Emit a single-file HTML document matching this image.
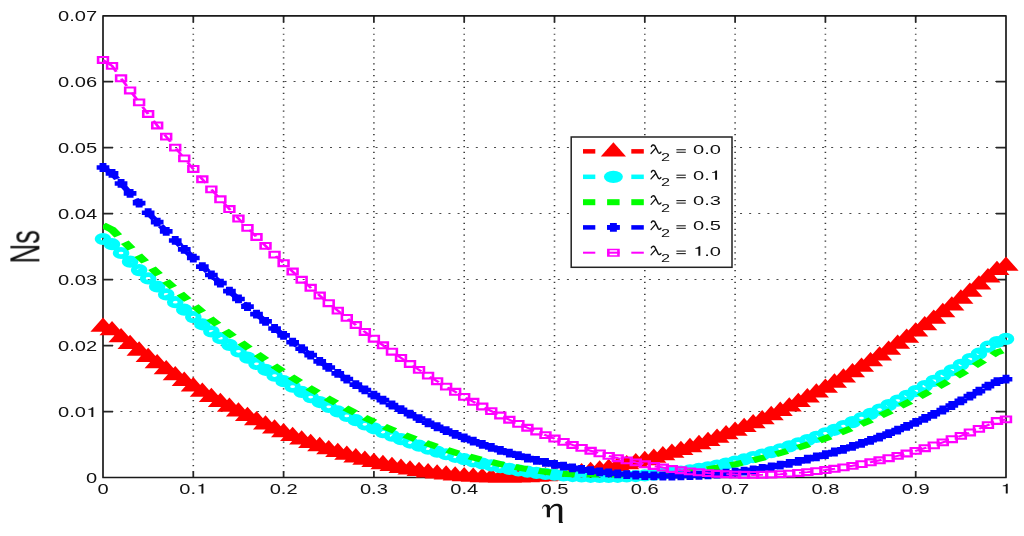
<!DOCTYPE html>
<html><head><meta charset="utf-8"><style>
html,body{margin:0;padding:0;background:#fff;width:1024px;height:536px;overflow:hidden}
svg{display:block}
text{font-family:"Liberation Sans",sans-serif;fill:#111}
</style></head><body>
<svg width="1024" height="536" viewBox="0 0 1024 536">
<defs><filter id="gs" x="0" y="0" width="1024" height="536" filterUnits="userSpaceOnUse"><feColorMatrix type="saturate" values="0"/></filter><clipPath id="axclip"><rect x="103.0" y="15.5" width="903.0" height="462.0"/></clipPath></defs>
<rect width="1024" height="536" fill="#fff"/>
<path d="M193.30,477.5 V15.5 M283.60,477.5 V15.5 M373.90,477.5 V15.5 M464.20,477.5 V15.5 M554.50,477.5 V15.5 M644.80,477.5 V15.5 M735.10,477.5 V15.5 M825.40,477.5 V15.5 M915.70,477.5 V15.5" stroke="#3a3a3a" stroke-width="1.6" stroke-dasharray="1.2,4.71" stroke-dashoffset="0.6" fill="none"/>
<path d="M103.0,411.50 H1006.0 M103.0,345.50 H1006.0 M103.0,279.50 H1006.0 M103.0,213.50 H1006.0 M103.0,147.50 H1006.0 M103.0,81.50 H1006.0" stroke="#4a4a4a" stroke-width="1.1" stroke-dasharray="2,7.112" stroke-dashoffset="0.8" fill="none"/>
<path d="M193.30,477.5 v-6 M193.30,15.9 v6 M283.60,477.5 v-6 M283.60,15.9 v6 M373.90,477.5 v-6 M373.90,15.9 v6 M464.20,477.5 v-6 M464.20,15.9 v6 M554.50,477.5 v-6 M554.50,15.9 v6 M644.80,477.5 v-6 M644.80,15.9 v6 M735.10,477.5 v-6 M735.10,15.9 v6 M825.40,477.5 v-6 M825.40,15.9 v6 M915.70,477.5 v-6 M915.70,15.9 v6 M103.0,411.50 h10 M1006.0,411.50 h-10 M103.0,345.50 h10 M1006.0,345.50 h-10 M103.0,279.50 h10 M1006.0,279.50 h-10 M103.0,213.50 h10 M1006.0,213.50 h-10 M103.0,147.50 h10 M1006.0,147.50 h-10 M103.0,81.50 h10 M1006.0,81.50 h-10" stroke="#262626" stroke-width="1.75" fill="none"/>
<rect x="103.0" y="15.9" width="903.0" height="461.6" fill="none" stroke="#1a1a1a" stroke-width="1.7" stroke-linejoin="round"/>
<g clip-path="url(#axclip)"><g transform="scale(1.55,1)"><path d="M66.45,326.60 L72.28,330.08 L78.10,337.03 L83.93,343.81 L89.75,350.39 L95.58,356.80 L101.41,363.03 L107.23,369.08 L113.06,374.95 L118.88,380.65 L124.71,386.17 L130.54,391.53 L136.36,396.71 L142.19,401.72 L148.01,406.56 L153.84,411.23 L159.66,415.74 L165.49,420.08 L171.32,424.25 L177.14,428.27 L182.97,432.11 L188.79,435.80 L194.62,439.32 L200.45,442.69 L206.27,445.89 L212.10,448.94 L217.92,451.83 L223.75,454.56 L229.57,457.13 L235.40,459.55 L241.23,461.81 L247.05,463.91 L252.88,465.86 L258.70,467.66 L264.53,469.31 L270.35,470.80 L276.18,472.14 L282.01,473.33 L287.83,474.36 L293.66,475.25 L299.48,475.99 L305.31,476.57 L311.14,477.01 L316.96,477.30 L322.79,477.44 L328.61,477.43 L334.44,477.28 L340.26,476.98 L346.09,476.53 L351.92,475.93 L357.74,475.19 L363.57,474.31 L369.39,473.28 L375.22,472.10 L381.05,470.79 L386.87,469.33 L392.70,467.72 L398.52,465.97 L404.35,464.09 L410.17,462.05 L416.00,459.88 L421.83,457.57 L427.65,455.12 L433.48,452.52 L439.30,449.79 L445.13,446.92 L450.95,443.91 L456.78,440.76 L462.61,437.47 L468.43,434.05 L474.26,430.49 L480.08,426.79 L485.91,422.95 L491.74,418.99 L497.56,414.88 L503.39,410.64 L509.21,406.27 L515.04,401.77 L520.86,397.13 L526.69,392.36 L532.52,387.45 L538.34,382.42 L544.17,377.25 L549.99,371.95 L555.82,366.53 L561.65,360.97 L567.47,355.28 L573.30,349.47 L579.12,343.53 L584.95,337.46 L590.77,331.26 L596.60,324.93 L602.43,318.48 L608.25,311.91 L614.08,305.20 L619.90,298.38 L625.73,291.43 L631.55,284.35 L637.38,277.15 L643.21,269.83 L649.03,265.50" stroke="#ff0000" stroke-width="4.5" stroke-dasharray="8,7.66" stroke-dashoffset="8.87" fill="none"/>
<path d="M66.45,326.60 L72.28,330.08 L78.10,337.03 L83.93,343.81 L89.75,350.39 L95.58,356.80 L101.41,363.03 L107.23,369.08 L113.06,374.95 L118.88,380.65 L124.71,386.17 L130.54,391.53 L136.36,396.71 L142.19,401.72 L148.01,406.56 L153.84,411.23 L159.66,415.74 L165.49,420.08 L171.32,424.25 L177.14,428.27 L182.97,432.11 L188.79,435.80 L194.62,439.32 L200.45,442.69 L206.27,445.89 L212.10,448.94 L217.92,451.83 L223.75,454.56 L229.57,457.13 L235.40,459.55 L241.23,461.81 L247.05,463.91 L252.88,465.86 L258.70,467.66 L264.53,469.31 L270.35,470.80 L276.18,472.14 L282.01,473.33 L287.83,474.36 L293.66,475.25 L299.48,475.99 L305.31,476.57 L311.14,477.01 L316.96,477.30 L322.79,477.44 L328.61,477.43 L334.44,477.28 L340.26,476.98 L346.09,476.53 L351.92,475.93 L357.74,475.19 L363.57,474.31 L369.39,473.28 L375.22,472.10 L381.05,470.79 L386.87,469.33 L392.70,467.72 L398.52,465.97 L404.35,464.09 L410.17,462.05 L416.00,459.88 L421.83,457.57 L427.65,455.12 L433.48,452.52 L439.30,449.79 L445.13,446.92 L450.95,443.91 L456.78,440.76 L462.61,437.47 L468.43,434.05 L474.26,430.49 L480.08,426.79 L485.91,422.95 L491.74,418.99 L497.56,414.88 L503.39,410.64 L509.21,406.27 L515.04,401.77 L520.86,397.13 L526.69,392.36 L532.52,387.45 L538.34,382.42 L544.17,377.25 L549.99,371.95 L555.82,366.53 L561.65,360.97 L567.47,355.28 L573.30,349.47 L579.12,343.53 L584.95,337.46 L590.77,331.26 L596.60,324.93 L602.43,318.48 L608.25,311.91 L614.08,305.20 L619.90,298.38 L625.73,291.43 L631.55,284.35 L637.38,277.15 L643.21,269.83 L649.03,265.50" stroke="#ff0000" stroke-width="4.5" stroke-dasharray="7.29,100000" fill="none"/>
</g></g>
<path d="M103.00,317.55 L115.60,331.85 L90.40,331.85 Z M112.03,321.03 L124.63,335.33 L99.43,335.33 Z M121.06,327.98 L133.66,342.28 L108.46,342.28 Z M130.09,334.76 L142.69,349.06 L117.49,349.06 Z M139.12,341.34 L151.72,355.64 L126.52,355.64 Z M148.15,347.75 L160.75,362.05 L135.55,362.05 Z M157.18,353.98 L169.78,368.28 L144.58,368.28 Z M166.21,360.03 L178.81,374.33 L153.61,374.33 Z M175.24,365.90 L187.84,380.20 L162.64,380.20 Z M184.27,371.60 L196.87,385.90 L171.67,385.90 Z M193.30,377.12 L205.90,391.42 L180.70,391.42 Z M202.33,382.48 L214.93,396.78 L189.73,396.78 Z M211.36,387.66 L223.96,401.96 L198.76,401.96 Z M220.39,392.67 L232.99,406.97 L207.79,406.97 Z M229.42,397.51 L242.02,411.81 L216.82,411.81 Z M238.45,402.18 L251.05,416.48 L225.85,416.48 Z M247.48,406.69 L260.08,420.99 L234.88,420.99 Z M256.51,411.03 L269.11,425.33 L243.91,425.33 Z M265.54,415.20 L278.14,429.50 L252.94,429.50 Z M274.57,419.22 L287.17,433.52 L261.97,433.52 Z M283.60,423.06 L296.20,437.36 L271.00,437.36 Z M292.63,426.75 L305.23,441.05 L280.03,441.05 Z M301.66,430.27 L314.26,444.57 L289.06,444.57 Z M310.69,433.64 L323.29,447.94 L298.09,447.94 Z M319.72,436.84 L332.32,451.14 L307.12,451.14 Z M328.75,439.89 L341.35,454.19 L316.15,454.19 Z M337.78,442.78 L350.38,457.08 L325.18,457.08 Z M346.81,445.51 L359.41,459.81 L334.21,459.81 Z M355.84,448.08 L368.44,462.38 L343.24,462.38 Z M364.87,450.50 L377.47,464.80 L352.27,464.80 Z M373.90,452.76 L386.50,467.06 L361.30,467.06 Z M382.93,454.86 L395.53,469.16 L370.33,469.16 Z M391.96,456.81 L404.56,471.11 L379.36,471.11 Z M400.99,458.61 L413.59,472.91 L388.39,472.91 Z M410.02,460.26 L422.62,474.56 L397.42,474.56 Z M419.05,461.75 L431.65,476.05 L406.45,476.05 Z M428.08,463.09 L440.68,477.39 L415.48,477.39 Z M437.11,464.28 L449.71,478.58 L424.51,478.58 Z M446.14,465.31 L458.74,479.61 L433.54,479.61 Z M455.17,466.20 L467.77,480.50 L442.57,480.50 Z M464.20,466.94 L476.80,481.24 L451.60,481.24 Z M473.23,467.52 L485.83,481.82 L460.63,481.82 Z M482.26,467.96 L494.86,482.26 L469.66,482.26 Z M491.29,468.25 L503.89,482.55 L478.69,482.55 Z M500.32,468.39 L512.92,482.69 L487.72,482.69 Z M509.35,468.38 L521.95,482.68 L496.75,482.68 Z M518.38,468.23 L530.98,482.53 L505.78,482.53 Z M527.41,467.93 L540.01,482.23 L514.81,482.23 Z M536.44,467.48 L549.04,481.78 L523.84,481.78 Z M545.47,466.88 L558.07,481.18 L532.87,481.18 Z M554.50,466.14 L567.10,480.44 L541.90,480.44 Z M563.53,465.26 L576.13,479.56 L550.93,479.56 Z M572.56,464.23 L585.16,478.53 L559.96,478.53 Z M581.59,463.05 L594.19,477.35 L568.99,477.35 Z M590.62,461.74 L603.22,476.04 L578.02,476.04 Z M599.65,460.28 L612.25,474.58 L587.05,474.58 Z M608.68,458.67 L621.28,472.97 L596.08,472.97 Z M617.71,456.92 L630.31,471.22 L605.11,471.22 Z M626.74,455.04 L639.34,469.34 L614.14,469.34 Z M635.77,453.00 L648.37,467.30 L623.17,467.30 Z M644.80,450.83 L657.40,465.13 L632.20,465.13 Z M653.83,448.52 L666.43,462.82 L641.23,462.82 Z M662.86,446.07 L675.46,460.37 L650.26,460.37 Z M671.89,443.47 L684.49,457.77 L659.29,457.77 Z M680.92,440.74 L693.52,455.04 L668.32,455.04 Z M689.95,437.87 L702.55,452.17 L677.35,452.17 Z M698.98,434.86 L711.58,449.16 L686.38,449.16 Z M708.01,431.71 L720.61,446.01 L695.41,446.01 Z M717.04,428.42 L729.64,442.72 L704.44,442.72 Z M726.07,425.00 L738.67,439.30 L713.47,439.30 Z M735.10,421.44 L747.70,435.74 L722.50,435.74 Z M744.13,417.74 L756.73,432.04 L731.53,432.04 Z M753.16,413.90 L765.76,428.20 L740.56,428.20 Z M762.19,409.94 L774.79,424.24 L749.59,424.24 Z M771.22,405.83 L783.82,420.13 L758.62,420.13 Z M780.25,401.59 L792.85,415.89 L767.65,415.89 Z M789.28,397.22 L801.88,411.52 L776.68,411.52 Z M798.31,392.72 L810.91,407.02 L785.71,407.02 Z M807.34,388.08 L819.94,402.38 L794.74,402.38 Z M816.37,383.31 L828.97,397.61 L803.77,397.61 Z M825.40,378.40 L838.00,392.70 L812.80,392.70 Z M834.43,373.37 L847.03,387.67 L821.83,387.67 Z M843.46,368.20 L856.06,382.50 L830.86,382.50 Z M852.49,362.90 L865.09,377.20 L839.89,377.20 Z M861.52,357.48 L874.12,371.78 L848.92,371.78 Z M870.55,351.92 L883.15,366.22 L857.95,366.22 Z M879.58,346.23 L892.18,360.53 L866.98,360.53 Z M888.61,340.42 L901.21,354.72 L876.01,354.72 Z M897.64,334.48 L910.24,348.78 L885.04,348.78 Z M906.67,328.41 L919.27,342.71 L894.07,342.71 Z M915.70,322.21 L928.30,336.51 L903.10,336.51 Z M924.73,315.88 L937.33,330.18 L912.13,330.18 Z M933.76,309.43 L946.36,323.73 L921.16,323.73 Z M942.79,302.86 L955.39,317.16 L930.19,317.16 Z M951.82,296.15 L964.42,310.45 L939.22,310.45 Z M960.85,289.33 L973.45,303.63 L948.25,303.63 Z M969.88,282.38 L982.48,296.68 L957.28,296.68 Z M978.91,275.30 L991.51,289.60 L966.31,289.60 Z M987.94,268.10 L1000.54,282.40 L975.34,282.40 Z M996.97,260.78 L1009.57,275.08 L984.37,275.08 Z M1006.00,256.45 L1018.60,270.75 L993.40,270.75 Z" fill="#ff0000"/>
<g clip-path="url(#axclip)"><g transform="scale(1.55,1)"><path d="M66.45,239.00 L72.28,244.20 L78.10,253.02 L83.93,261.66 L89.75,270.11 L95.58,278.39 L101.41,286.49 L107.23,294.41 L113.06,302.15 L118.88,309.71 L124.71,317.09 L130.54,324.29 L136.36,331.32 L142.19,338.17 L148.01,344.84 L153.84,351.34 L159.66,357.66 L165.49,363.81 L171.32,369.79 L177.14,375.59 L182.97,381.22 L188.79,386.68 L194.62,391.97 L200.45,397.10 L206.27,402.05 L212.10,406.84 L217.92,411.46 L223.75,415.91 L229.57,420.20 L235.40,424.33 L241.23,428.29 L247.05,432.09 L252.88,435.74 L258.70,439.22 L264.53,442.54 L270.35,445.71 L276.18,448.72 L282.01,451.57 L287.83,454.27 L293.66,456.81 L299.48,459.20 L305.31,461.43 L311.14,463.51 L316.96,465.44 L322.79,467.22 L328.61,468.85 L334.44,470.33 L340.26,471.65 L346.09,472.83 L351.92,473.86 L357.74,474.74 L363.57,475.48 L369.39,476.06 L375.22,476.50 L381.05,476.79 L386.87,476.94 L392.70,476.94 L398.52,476.79 L404.35,476.50 L410.17,476.06 L416.00,475.47 L421.83,474.74 L427.65,473.87 L433.48,472.84 L439.30,471.68 L445.13,470.37 L450.95,468.91 L456.78,467.31 L462.61,465.57 L468.43,463.68 L474.26,461.64 L480.08,459.46 L485.91,457.14 L491.74,454.67 L497.56,452.06 L503.39,449.31 L509.21,446.41 L515.04,443.37 L520.86,440.19 L526.69,436.86 L532.52,433.39 L538.34,429.78 L544.17,426.03 L549.99,422.14 L555.82,418.10 L561.65,413.93 L567.47,409.62 L573.30,405.18 L579.12,400.59 L584.95,395.87 L590.77,391.02 L596.60,386.04 L602.43,380.92 L608.25,375.67 L614.08,370.30 L619.90,364.80 L625.73,359.17 L631.55,353.70 L637.38,346.70 L643.21,342.00 L649.03,338.90" stroke="#00ffff" stroke-width="4.5" stroke-dasharray="8,7.66" stroke-dashoffset="8.87" fill="none"/>
<path d="M66.45,239.00 L72.28,244.20 L78.10,253.02 L83.93,261.66 L89.75,270.11 L95.58,278.39 L101.41,286.49 L107.23,294.41 L113.06,302.15 L118.88,309.71 L124.71,317.09 L130.54,324.29 L136.36,331.32 L142.19,338.17 L148.01,344.84 L153.84,351.34 L159.66,357.66 L165.49,363.81 L171.32,369.79 L177.14,375.59 L182.97,381.22 L188.79,386.68 L194.62,391.97 L200.45,397.10 L206.27,402.05 L212.10,406.84 L217.92,411.46 L223.75,415.91 L229.57,420.20 L235.40,424.33 L241.23,428.29 L247.05,432.09 L252.88,435.74 L258.70,439.22 L264.53,442.54 L270.35,445.71 L276.18,448.72 L282.01,451.57 L287.83,454.27 L293.66,456.81 L299.48,459.20 L305.31,461.43 L311.14,463.51 L316.96,465.44 L322.79,467.22 L328.61,468.85 L334.44,470.33 L340.26,471.65 L346.09,472.83 L351.92,473.86 L357.74,474.74 L363.57,475.48 L369.39,476.06 L375.22,476.50 L381.05,476.79 L386.87,476.94 L392.70,476.94 L398.52,476.79 L404.35,476.50 L410.17,476.06 L416.00,475.47 L421.83,474.74 L427.65,473.87 L433.48,472.84 L439.30,471.68 L445.13,470.37 L450.95,468.91 L456.78,467.31 L462.61,465.57 L468.43,463.68 L474.26,461.64 L480.08,459.46 L485.91,457.14 L491.74,454.67 L497.56,452.06 L503.39,449.31 L509.21,446.41 L515.04,443.37 L520.86,440.19 L526.69,436.86 L532.52,433.39 L538.34,429.78 L544.17,426.03 L549.99,422.14 L555.82,418.10 L561.65,413.93 L567.47,409.62 L573.30,405.18 L579.12,400.59 L584.95,395.87 L590.77,391.02 L596.60,386.04 L602.43,380.92 L608.25,375.67 L614.08,370.30 L619.90,364.80 L625.73,359.17 L631.55,353.70 L637.38,346.70 L643.21,342.00 L649.03,338.90" stroke="#00ffff" stroke-width="4.5" stroke-dasharray="7.29,100000" fill="none"/>
</g></g>
<g fill="#00ffff" fill-rule="evenodd"><path d="M94.70,239.00 a8.3,6.1 0 1,0 16.6,0 a8.3,6.1 0 1,0 -16.6,0 Z M100.60,239.00 a2.4,1.35 0 1,0 4.8,0 a2.4,1.35 0 1,0 -4.8,0 Z"/><path d="M103.73,244.20 a8.3,6.1 0 1,0 16.6,0 a8.3,6.1 0 1,0 -16.6,0 Z M109.63,244.20 a2.4,1.35 0 1,0 4.8,0 a2.4,1.35 0 1,0 -4.8,0 Z"/><path d="M112.76,253.02 a8.3,6.1 0 1,0 16.6,0 a8.3,6.1 0 1,0 -16.6,0 Z M118.66,253.02 a2.4,1.35 0 1,0 4.8,0 a2.4,1.35 0 1,0 -4.8,0 Z"/><path d="M121.79,261.66 a8.3,6.1 0 1,0 16.6,0 a8.3,6.1 0 1,0 -16.6,0 Z M127.69,261.66 a2.4,1.35 0 1,0 4.8,0 a2.4,1.35 0 1,0 -4.8,0 Z"/><path d="M130.82,270.11 a8.3,6.1 0 1,0 16.6,0 a8.3,6.1 0 1,0 -16.6,0 Z M136.72,270.11 a2.4,1.35 0 1,0 4.8,0 a2.4,1.35 0 1,0 -4.8,0 Z"/><path d="M139.85,278.39 a8.3,6.1 0 1,0 16.6,0 a8.3,6.1 0 1,0 -16.6,0 Z M145.75,278.39 a2.4,1.35 0 1,0 4.8,0 a2.4,1.35 0 1,0 -4.8,0 Z"/><path d="M148.88,286.49 a8.3,6.1 0 1,0 16.6,0 a8.3,6.1 0 1,0 -16.6,0 Z M154.78,286.49 a2.4,1.35 0 1,0 4.8,0 a2.4,1.35 0 1,0 -4.8,0 Z"/><path d="M157.91,294.41 a8.3,6.1 0 1,0 16.6,0 a8.3,6.1 0 1,0 -16.6,0 Z M163.81,294.41 a2.4,1.35 0 1,0 4.8,0 a2.4,1.35 0 1,0 -4.8,0 Z"/><path d="M166.94,302.15 a8.3,6.1 0 1,0 16.6,0 a8.3,6.1 0 1,0 -16.6,0 Z M172.84,302.15 a2.4,1.35 0 1,0 4.8,0 a2.4,1.35 0 1,0 -4.8,0 Z"/><path d="M175.97,309.71 a8.3,6.1 0 1,0 16.6,0 a8.3,6.1 0 1,0 -16.6,0 Z M181.87,309.71 a2.4,1.35 0 1,0 4.8,0 a2.4,1.35 0 1,0 -4.8,0 Z"/><path d="M185.00,317.09 a8.3,6.1 0 1,0 16.6,0 a8.3,6.1 0 1,0 -16.6,0 Z M190.90,317.09 a2.4,1.35 0 1,0 4.8,0 a2.4,1.35 0 1,0 -4.8,0 Z"/><path d="M194.03,324.29 a8.3,6.1 0 1,0 16.6,0 a8.3,6.1 0 1,0 -16.6,0 Z M199.93,324.29 a2.4,1.35 0 1,0 4.8,0 a2.4,1.35 0 1,0 -4.8,0 Z"/><path d="M203.06,331.32 a8.3,6.1 0 1,0 16.6,0 a8.3,6.1 0 1,0 -16.6,0 Z M208.96,331.32 a2.4,1.35 0 1,0 4.8,0 a2.4,1.35 0 1,0 -4.8,0 Z"/><path d="M212.09,338.17 a8.3,6.1 0 1,0 16.6,0 a8.3,6.1 0 1,0 -16.6,0 Z M217.99,338.17 a2.4,1.35 0 1,0 4.8,0 a2.4,1.35 0 1,0 -4.8,0 Z"/><path d="M221.12,344.84 a8.3,6.1 0 1,0 16.6,0 a8.3,6.1 0 1,0 -16.6,0 Z M227.02,344.84 a2.4,1.35 0 1,0 4.8,0 a2.4,1.35 0 1,0 -4.8,0 Z"/><path d="M230.15,351.34 a8.3,6.1 0 1,0 16.6,0 a8.3,6.1 0 1,0 -16.6,0 Z M236.05,351.34 a2.4,1.35 0 1,0 4.8,0 a2.4,1.35 0 1,0 -4.8,0 Z"/><path d="M239.18,357.66 a8.3,6.1 0 1,0 16.6,0 a8.3,6.1 0 1,0 -16.6,0 Z M245.08,357.66 a2.4,1.35 0 1,0 4.8,0 a2.4,1.35 0 1,0 -4.8,0 Z"/><path d="M248.21,363.81 a8.3,6.1 0 1,0 16.6,0 a8.3,6.1 0 1,0 -16.6,0 Z M254.11,363.81 a2.4,1.35 0 1,0 4.8,0 a2.4,1.35 0 1,0 -4.8,0 Z"/><path d="M257.24,369.79 a8.3,6.1 0 1,0 16.6,0 a8.3,6.1 0 1,0 -16.6,0 Z M263.14,369.79 a2.4,1.35 0 1,0 4.8,0 a2.4,1.35 0 1,0 -4.8,0 Z"/><path d="M266.27,375.59 a8.3,6.1 0 1,0 16.6,0 a8.3,6.1 0 1,0 -16.6,0 Z M272.17,375.59 a2.4,1.35 0 1,0 4.8,0 a2.4,1.35 0 1,0 -4.8,0 Z"/><path d="M275.30,381.22 a8.3,6.1 0 1,0 16.6,0 a8.3,6.1 0 1,0 -16.6,0 Z M281.20,381.22 a2.4,1.35 0 1,0 4.8,0 a2.4,1.35 0 1,0 -4.8,0 Z"/><path d="M284.33,386.68 a8.3,6.1 0 1,0 16.6,0 a8.3,6.1 0 1,0 -16.6,0 Z M290.23,386.68 a2.4,1.35 0 1,0 4.8,0 a2.4,1.35 0 1,0 -4.8,0 Z"/><path d="M293.36,391.97 a8.3,6.1 0 1,0 16.6,0 a8.3,6.1 0 1,0 -16.6,0 Z M299.26,391.97 a2.4,1.35 0 1,0 4.8,0 a2.4,1.35 0 1,0 -4.8,0 Z"/><path d="M302.39,397.10 a8.3,6.1 0 1,0 16.6,0 a8.3,6.1 0 1,0 -16.6,0 Z M308.29,397.10 a2.4,1.35 0 1,0 4.8,0 a2.4,1.35 0 1,0 -4.8,0 Z"/><path d="M311.42,402.05 a8.3,6.1 0 1,0 16.6,0 a8.3,6.1 0 1,0 -16.6,0 Z M317.32,402.05 a2.4,1.35 0 1,0 4.8,0 a2.4,1.35 0 1,0 -4.8,0 Z"/><path d="M320.45,406.84 a8.3,6.1 0 1,0 16.6,0 a8.3,6.1 0 1,0 -16.6,0 Z M326.35,406.84 a2.4,1.35 0 1,0 4.8,0 a2.4,1.35 0 1,0 -4.8,0 Z"/><path d="M329.48,411.46 a8.3,6.1 0 1,0 16.6,0 a8.3,6.1 0 1,0 -16.6,0 Z M335.38,411.46 a2.4,1.35 0 1,0 4.8,0 a2.4,1.35 0 1,0 -4.8,0 Z"/><path d="M338.51,415.91 a8.3,6.1 0 1,0 16.6,0 a8.3,6.1 0 1,0 -16.6,0 Z M344.41,415.91 a2.4,1.35 0 1,0 4.8,0 a2.4,1.35 0 1,0 -4.8,0 Z"/><path d="M347.54,420.20 a8.3,6.1 0 1,0 16.6,0 a8.3,6.1 0 1,0 -16.6,0 Z M353.44,420.20 a2.4,1.35 0 1,0 4.8,0 a2.4,1.35 0 1,0 -4.8,0 Z"/><path d="M356.57,424.33 a8.3,6.1 0 1,0 16.6,0 a8.3,6.1 0 1,0 -16.6,0 Z M362.47,424.33 a2.4,1.35 0 1,0 4.8,0 a2.4,1.35 0 1,0 -4.8,0 Z"/><path d="M365.60,428.29 a8.3,6.1 0 1,0 16.6,0 a8.3,6.1 0 1,0 -16.6,0 Z M371.50,428.29 a2.4,1.35 0 1,0 4.8,0 a2.4,1.35 0 1,0 -4.8,0 Z"/><path d="M374.63,432.09 a8.3,6.1 0 1,0 16.6,0 a8.3,6.1 0 1,0 -16.6,0 Z M380.53,432.09 a2.4,1.35 0 1,0 4.8,0 a2.4,1.35 0 1,0 -4.8,0 Z"/><path d="M383.66,435.74 a8.3,6.1 0 1,0 16.6,0 a8.3,6.1 0 1,0 -16.6,0 Z M389.56,435.74 a2.4,1.35 0 1,0 4.8,0 a2.4,1.35 0 1,0 -4.8,0 Z"/><path d="M392.69,439.22 a8.3,6.1 0 1,0 16.6,0 a8.3,6.1 0 1,0 -16.6,0 Z M398.59,439.22 a2.4,1.35 0 1,0 4.8,0 a2.4,1.35 0 1,0 -4.8,0 Z"/><path d="M401.72,442.54 a8.3,6.1 0 1,0 16.6,0 a8.3,6.1 0 1,0 -16.6,0 Z M407.62,442.54 a2.4,1.35 0 1,0 4.8,0 a2.4,1.35 0 1,0 -4.8,0 Z"/><path d="M410.75,445.71 a8.3,6.1 0 1,0 16.6,0 a8.3,6.1 0 1,0 -16.6,0 Z M416.65,445.71 a2.4,1.35 0 1,0 4.8,0 a2.4,1.35 0 1,0 -4.8,0 Z"/><path d="M419.78,448.72 a8.3,6.1 0 1,0 16.6,0 a8.3,6.1 0 1,0 -16.6,0 Z M425.68,448.72 a2.4,1.35 0 1,0 4.8,0 a2.4,1.35 0 1,0 -4.8,0 Z"/><path d="M428.81,451.57 a8.3,6.1 0 1,0 16.6,0 a8.3,6.1 0 1,0 -16.6,0 Z M434.71,451.57 a2.4,1.35 0 1,0 4.8,0 a2.4,1.35 0 1,0 -4.8,0 Z"/><path d="M437.84,454.27 a8.3,6.1 0 1,0 16.6,0 a8.3,6.1 0 1,0 -16.6,0 Z M443.74,454.27 a2.4,1.35 0 1,0 4.8,0 a2.4,1.35 0 1,0 -4.8,0 Z"/><path d="M446.87,456.81 a8.3,6.1 0 1,0 16.6,0 a8.3,6.1 0 1,0 -16.6,0 Z M452.77,456.81 a2.4,1.35 0 1,0 4.8,0 a2.4,1.35 0 1,0 -4.8,0 Z"/><path d="M455.90,459.20 a8.3,6.1 0 1,0 16.6,0 a8.3,6.1 0 1,0 -16.6,0 Z M461.80,459.20 a2.4,1.35 0 1,0 4.8,0 a2.4,1.35 0 1,0 -4.8,0 Z"/><path d="M464.93,461.43 a8.3,6.1 0 1,0 16.6,0 a8.3,6.1 0 1,0 -16.6,0 Z M470.83,461.43 a2.4,1.35 0 1,0 4.8,0 a2.4,1.35 0 1,0 -4.8,0 Z"/><path d="M473.96,463.51 a8.3,6.1 0 1,0 16.6,0 a8.3,6.1 0 1,0 -16.6,0 Z M479.86,463.51 a2.4,1.35 0 1,0 4.8,0 a2.4,1.35 0 1,0 -4.8,0 Z"/><path d="M482.99,465.44 a8.3,6.1 0 1,0 16.6,0 a8.3,6.1 0 1,0 -16.6,0 Z M488.89,465.44 a2.4,1.35 0 1,0 4.8,0 a2.4,1.35 0 1,0 -4.8,0 Z"/><path d="M492.02,467.22 a8.3,6.1 0 1,0 16.6,0 a8.3,6.1 0 1,0 -16.6,0 Z M497.92,467.22 a2.4,1.35 0 1,0 4.8,0 a2.4,1.35 0 1,0 -4.8,0 Z"/><path d="M501.05,468.85 a8.3,6.1 0 1,0 16.6,0 a8.3,6.1 0 1,0 -16.6,0 Z M506.95,468.85 a2.4,1.35 0 1,0 4.8,0 a2.4,1.35 0 1,0 -4.8,0 Z"/><path d="M510.08,470.33 a8.3,6.1 0 1,0 16.6,0 a8.3,6.1 0 1,0 -16.6,0 Z M515.98,470.33 a2.4,1.35 0 1,0 4.8,0 a2.4,1.35 0 1,0 -4.8,0 Z"/><path d="M519.11,471.65 a8.3,6.1 0 1,0 16.6,0 a8.3,6.1 0 1,0 -16.6,0 Z M525.01,471.65 a2.4,1.35 0 1,0 4.8,0 a2.4,1.35 0 1,0 -4.8,0 Z"/><path d="M528.14,472.83 a8.3,6.1 0 1,0 16.6,0 a8.3,6.1 0 1,0 -16.6,0 Z M534.04,472.83 a2.4,1.35 0 1,0 4.8,0 a2.4,1.35 0 1,0 -4.8,0 Z"/><path d="M537.17,473.86 a8.3,6.1 0 1,0 16.6,0 a8.3,6.1 0 1,0 -16.6,0 Z M543.07,473.86 a2.4,1.35 0 1,0 4.8,0 a2.4,1.35 0 1,0 -4.8,0 Z"/><path d="M546.20,474.74 a8.3,6.1 0 1,0 16.6,0 a8.3,6.1 0 1,0 -16.6,0 Z M552.10,474.74 a2.4,1.35 0 1,0 4.8,0 a2.4,1.35 0 1,0 -4.8,0 Z"/><path d="M555.23,475.48 a8.3,6.1 0 1,0 16.6,0 a8.3,6.1 0 1,0 -16.6,0 Z M561.13,475.48 a2.4,1.35 0 1,0 4.8,0 a2.4,1.35 0 1,0 -4.8,0 Z"/><path d="M564.26,476.06 a8.3,6.1 0 1,0 16.6,0 a8.3,6.1 0 1,0 -16.6,0 Z M570.16,476.06 a2.4,1.35 0 1,0 4.8,0 a2.4,1.35 0 1,0 -4.8,0 Z"/><path d="M573.29,476.50 a8.3,6.1 0 1,0 16.6,0 a8.3,6.1 0 1,0 -16.6,0 Z M579.19,476.50 a2.4,1.35 0 1,0 4.8,0 a2.4,1.35 0 1,0 -4.8,0 Z"/><path d="M582.32,476.79 a8.3,6.1 0 1,0 16.6,0 a8.3,6.1 0 1,0 -16.6,0 Z M588.22,476.79 a2.4,1.35 0 1,0 4.8,0 a2.4,1.35 0 1,0 -4.8,0 Z"/><path d="M591.35,476.94 a8.3,6.1 0 1,0 16.6,0 a8.3,6.1 0 1,0 -16.6,0 Z M597.25,476.94 a2.4,1.35 0 1,0 4.8,0 a2.4,1.35 0 1,0 -4.8,0 Z"/><path d="M600.38,476.94 a8.3,6.1 0 1,0 16.6,0 a8.3,6.1 0 1,0 -16.6,0 Z M606.28,476.94 a2.4,1.35 0 1,0 4.8,0 a2.4,1.35 0 1,0 -4.8,0 Z"/><path d="M609.41,476.79 a8.3,6.1 0 1,0 16.6,0 a8.3,6.1 0 1,0 -16.6,0 Z M615.31,476.79 a2.4,1.35 0 1,0 4.8,0 a2.4,1.35 0 1,0 -4.8,0 Z"/><path d="M618.44,476.50 a8.3,6.1 0 1,0 16.6,0 a8.3,6.1 0 1,0 -16.6,0 Z M624.34,476.50 a2.4,1.35 0 1,0 4.8,0 a2.4,1.35 0 1,0 -4.8,0 Z"/><path d="M627.47,476.06 a8.3,6.1 0 1,0 16.6,0 a8.3,6.1 0 1,0 -16.6,0 Z M633.37,476.06 a2.4,1.35 0 1,0 4.8,0 a2.4,1.35 0 1,0 -4.8,0 Z"/><path d="M636.50,475.47 a8.3,6.1 0 1,0 16.6,0 a8.3,6.1 0 1,0 -16.6,0 Z M642.40,475.47 a2.4,1.35 0 1,0 4.8,0 a2.4,1.35 0 1,0 -4.8,0 Z"/><path d="M645.53,474.74 a8.3,6.1 0 1,0 16.6,0 a8.3,6.1 0 1,0 -16.6,0 Z M651.43,474.74 a2.4,1.35 0 1,0 4.8,0 a2.4,1.35 0 1,0 -4.8,0 Z"/><path d="M654.56,473.87 a8.3,6.1 0 1,0 16.6,0 a8.3,6.1 0 1,0 -16.6,0 Z M660.46,473.87 a2.4,1.35 0 1,0 4.8,0 a2.4,1.35 0 1,0 -4.8,0 Z"/><path d="M663.59,472.84 a8.3,6.1 0 1,0 16.6,0 a8.3,6.1 0 1,0 -16.6,0 Z M669.49,472.84 a2.4,1.35 0 1,0 4.8,0 a2.4,1.35 0 1,0 -4.8,0 Z"/><path d="M672.62,471.68 a8.3,6.1 0 1,0 16.6,0 a8.3,6.1 0 1,0 -16.6,0 Z M678.52,471.68 a2.4,1.35 0 1,0 4.8,0 a2.4,1.35 0 1,0 -4.8,0 Z"/><path d="M681.65,470.37 a8.3,6.1 0 1,0 16.6,0 a8.3,6.1 0 1,0 -16.6,0 Z M687.55,470.37 a2.4,1.35 0 1,0 4.8,0 a2.4,1.35 0 1,0 -4.8,0 Z"/><path d="M690.68,468.91 a8.3,6.1 0 1,0 16.6,0 a8.3,6.1 0 1,0 -16.6,0 Z M696.58,468.91 a2.4,1.35 0 1,0 4.8,0 a2.4,1.35 0 1,0 -4.8,0 Z"/><path d="M699.71,467.31 a8.3,6.1 0 1,0 16.6,0 a8.3,6.1 0 1,0 -16.6,0 Z M705.61,467.31 a2.4,1.35 0 1,0 4.8,0 a2.4,1.35 0 1,0 -4.8,0 Z"/><path d="M708.74,465.57 a8.3,6.1 0 1,0 16.6,0 a8.3,6.1 0 1,0 -16.6,0 Z M714.64,465.57 a2.4,1.35 0 1,0 4.8,0 a2.4,1.35 0 1,0 -4.8,0 Z"/><path d="M717.77,463.68 a8.3,6.1 0 1,0 16.6,0 a8.3,6.1 0 1,0 -16.6,0 Z M723.67,463.68 a2.4,1.35 0 1,0 4.8,0 a2.4,1.35 0 1,0 -4.8,0 Z"/><path d="M726.80,461.64 a8.3,6.1 0 1,0 16.6,0 a8.3,6.1 0 1,0 -16.6,0 Z M732.70,461.64 a2.4,1.35 0 1,0 4.8,0 a2.4,1.35 0 1,0 -4.8,0 Z"/><path d="M735.83,459.46 a8.3,6.1 0 1,0 16.6,0 a8.3,6.1 0 1,0 -16.6,0 Z M741.73,459.46 a2.4,1.35 0 1,0 4.8,0 a2.4,1.35 0 1,0 -4.8,0 Z"/><path d="M744.86,457.14 a8.3,6.1 0 1,0 16.6,0 a8.3,6.1 0 1,0 -16.6,0 Z M750.76,457.14 a2.4,1.35 0 1,0 4.8,0 a2.4,1.35 0 1,0 -4.8,0 Z"/><path d="M753.89,454.67 a8.3,6.1 0 1,0 16.6,0 a8.3,6.1 0 1,0 -16.6,0 Z M759.79,454.67 a2.4,1.35 0 1,0 4.8,0 a2.4,1.35 0 1,0 -4.8,0 Z"/><path d="M762.92,452.06 a8.3,6.1 0 1,0 16.6,0 a8.3,6.1 0 1,0 -16.6,0 Z M768.82,452.06 a2.4,1.35 0 1,0 4.8,0 a2.4,1.35 0 1,0 -4.8,0 Z"/><path d="M771.95,449.31 a8.3,6.1 0 1,0 16.6,0 a8.3,6.1 0 1,0 -16.6,0 Z M777.85,449.31 a2.4,1.35 0 1,0 4.8,0 a2.4,1.35 0 1,0 -4.8,0 Z"/><path d="M780.98,446.41 a8.3,6.1 0 1,0 16.6,0 a8.3,6.1 0 1,0 -16.6,0 Z M786.88,446.41 a2.4,1.35 0 1,0 4.8,0 a2.4,1.35 0 1,0 -4.8,0 Z"/><path d="M790.01,443.37 a8.3,6.1 0 1,0 16.6,0 a8.3,6.1 0 1,0 -16.6,0 Z M795.91,443.37 a2.4,1.35 0 1,0 4.8,0 a2.4,1.35 0 1,0 -4.8,0 Z"/><path d="M799.04,440.19 a8.3,6.1 0 1,0 16.6,0 a8.3,6.1 0 1,0 -16.6,0 Z M804.94,440.19 a2.4,1.35 0 1,0 4.8,0 a2.4,1.35 0 1,0 -4.8,0 Z"/><path d="M808.07,436.86 a8.3,6.1 0 1,0 16.6,0 a8.3,6.1 0 1,0 -16.6,0 Z M813.97,436.86 a2.4,1.35 0 1,0 4.8,0 a2.4,1.35 0 1,0 -4.8,0 Z"/><path d="M817.10,433.39 a8.3,6.1 0 1,0 16.6,0 a8.3,6.1 0 1,0 -16.6,0 Z M823.00,433.39 a2.4,1.35 0 1,0 4.8,0 a2.4,1.35 0 1,0 -4.8,0 Z"/><path d="M826.13,429.78 a8.3,6.1 0 1,0 16.6,0 a8.3,6.1 0 1,0 -16.6,0 Z M832.03,429.78 a2.4,1.35 0 1,0 4.8,0 a2.4,1.35 0 1,0 -4.8,0 Z"/><path d="M835.16,426.03 a8.3,6.1 0 1,0 16.6,0 a8.3,6.1 0 1,0 -16.6,0 Z M841.06,426.03 a2.4,1.35 0 1,0 4.8,0 a2.4,1.35 0 1,0 -4.8,0 Z"/><path d="M844.19,422.14 a8.3,6.1 0 1,0 16.6,0 a8.3,6.1 0 1,0 -16.6,0 Z M850.09,422.14 a2.4,1.35 0 1,0 4.8,0 a2.4,1.35 0 1,0 -4.8,0 Z"/><path d="M853.22,418.10 a8.3,6.1 0 1,0 16.6,0 a8.3,6.1 0 1,0 -16.6,0 Z M859.12,418.10 a2.4,1.35 0 1,0 4.8,0 a2.4,1.35 0 1,0 -4.8,0 Z"/><path d="M862.25,413.93 a8.3,6.1 0 1,0 16.6,0 a8.3,6.1 0 1,0 -16.6,0 Z M868.15,413.93 a2.4,1.35 0 1,0 4.8,0 a2.4,1.35 0 1,0 -4.8,0 Z"/><path d="M871.28,409.62 a8.3,6.1 0 1,0 16.6,0 a8.3,6.1 0 1,0 -16.6,0 Z M877.18,409.62 a2.4,1.35 0 1,0 4.8,0 a2.4,1.35 0 1,0 -4.8,0 Z"/><path d="M880.31,405.18 a8.3,6.1 0 1,0 16.6,0 a8.3,6.1 0 1,0 -16.6,0 Z M886.21,405.18 a2.4,1.35 0 1,0 4.8,0 a2.4,1.35 0 1,0 -4.8,0 Z"/><path d="M889.34,400.59 a8.3,6.1 0 1,0 16.6,0 a8.3,6.1 0 1,0 -16.6,0 Z M895.24,400.59 a2.4,1.35 0 1,0 4.8,0 a2.4,1.35 0 1,0 -4.8,0 Z"/><path d="M898.37,395.87 a8.3,6.1 0 1,0 16.6,0 a8.3,6.1 0 1,0 -16.6,0 Z M904.27,395.87 a2.4,1.35 0 1,0 4.8,0 a2.4,1.35 0 1,0 -4.8,0 Z"/><path d="M907.40,391.02 a8.3,6.1 0 1,0 16.6,0 a8.3,6.1 0 1,0 -16.6,0 Z M913.30,391.02 a2.4,1.35 0 1,0 4.8,0 a2.4,1.35 0 1,0 -4.8,0 Z"/><path d="M916.43,386.04 a8.3,6.1 0 1,0 16.6,0 a8.3,6.1 0 1,0 -16.6,0 Z M922.33,386.04 a2.4,1.35 0 1,0 4.8,0 a2.4,1.35 0 1,0 -4.8,0 Z"/><path d="M925.46,380.92 a8.3,6.1 0 1,0 16.6,0 a8.3,6.1 0 1,0 -16.6,0 Z M931.36,380.92 a2.4,1.35 0 1,0 4.8,0 a2.4,1.35 0 1,0 -4.8,0 Z"/><path d="M934.49,375.67 a8.3,6.1 0 1,0 16.6,0 a8.3,6.1 0 1,0 -16.6,0 Z M940.39,375.67 a2.4,1.35 0 1,0 4.8,0 a2.4,1.35 0 1,0 -4.8,0 Z"/><path d="M943.52,370.30 a8.3,6.1 0 1,0 16.6,0 a8.3,6.1 0 1,0 -16.6,0 Z M949.42,370.30 a2.4,1.35 0 1,0 4.8,0 a2.4,1.35 0 1,0 -4.8,0 Z"/><path d="M952.55,364.80 a8.3,6.1 0 1,0 16.6,0 a8.3,6.1 0 1,0 -16.6,0 Z M958.45,364.80 a2.4,1.35 0 1,0 4.8,0 a2.4,1.35 0 1,0 -4.8,0 Z"/><path d="M961.58,359.17 a8.3,6.1 0 1,0 16.6,0 a8.3,6.1 0 1,0 -16.6,0 Z M967.48,359.17 a2.4,1.35 0 1,0 4.8,0 a2.4,1.35 0 1,0 -4.8,0 Z"/><path d="M970.61,353.70 a8.3,6.1 0 1,0 16.6,0 a8.3,6.1 0 1,0 -16.6,0 Z M976.51,353.70 a2.4,1.35 0 1,0 4.8,0 a2.4,1.35 0 1,0 -4.8,0 Z"/><path d="M979.64,346.70 a8.3,6.1 0 1,0 16.6,0 a8.3,6.1 0 1,0 -16.6,0 Z M985.54,346.70 a2.4,1.35 0 1,0 4.8,0 a2.4,1.35 0 1,0 -4.8,0 Z"/><path d="M988.67,342.00 a8.3,6.1 0 1,0 16.6,0 a8.3,6.1 0 1,0 -16.6,0 Z M994.57,342.00 a2.4,1.35 0 1,0 4.8,0 a2.4,1.35 0 1,0 -4.8,0 Z"/><path d="M997.70,338.90 a8.3,6.1 0 1,0 16.6,0 a8.3,6.1 0 1,0 -16.6,0 Z M1003.60,338.90 a2.4,1.35 0 1,0 4.8,0 a2.4,1.35 0 1,0 -4.8,0 Z"/></g>
<g clip-path="url(#axclip)"><g transform="scale(1.55,1)"><path d="M66.45,225.10 L72.28,229.61 L78.10,238.61 L83.93,247.46 L89.75,256.14 L95.58,264.66 L101.41,273.02 L107.23,281.21 L113.06,289.23 L118.88,297.08 L124.71,304.76 L130.54,312.27 L136.36,319.60 L142.19,326.76 L148.01,333.74 L153.84,340.54 L159.66,347.18 L165.49,353.63 L171.32,359.91 L177.14,366.02 L182.97,371.95 L188.79,377.71 L194.62,383.29 L200.45,388.70 L206.27,393.94 L212.10,399.01 L217.92,403.91 L223.75,408.64 L229.57,413.19 L235.40,417.59 L241.23,421.81 L247.05,425.87 L252.88,429.76 L258.70,433.49 L264.53,437.06 L270.35,440.47 L276.18,443.72 L282.01,446.80 L287.83,449.73 L293.66,452.50 L299.48,455.12 L305.31,457.58 L311.14,459.89 L316.96,462.04 L322.79,464.04 L328.61,465.89 L334.44,467.59 L340.26,469.13 L346.09,470.53 L351.92,471.78 L357.74,472.88 L363.57,473.83 L369.39,474.63 L375.22,475.29 L381.05,475.80 L386.87,476.17 L392.70,476.39 L398.52,476.46 L404.35,476.39 L410.17,476.17 L416.00,475.81 L421.83,475.31 L427.65,474.66 L433.48,473.86 L439.30,472.92 L445.13,471.84 L450.95,470.62 L456.78,469.24 L462.61,467.73 L468.43,466.07 L474.26,464.27 L480.08,462.32 L485.91,460.23 L491.74,458.00 L497.56,455.63 L503.39,453.11 L509.21,450.45 L515.04,447.64 L520.86,444.70 L526.69,441.61 L532.52,438.39 L538.34,435.02 L544.17,431.52 L549.99,427.88 L555.82,424.10 L561.65,420.19 L567.47,416.14 L573.30,411.96 L579.12,407.65 L584.95,403.22 L590.77,398.65 L596.60,393.96 L602.43,389.15 L608.25,384.23 L614.08,379.19 L619.90,374.03 L625.73,368.77 L631.55,363.40 L637.38,357.94 L643.21,352.38 L649.03,349.60" stroke="#00ff00" stroke-width="6" stroke-dasharray="8,7.66" stroke-dashoffset="8.87" fill="none"/>
<path d="M66.45,225.10 L72.28,229.61 L78.10,238.61 L83.93,247.46 L89.75,256.14 L95.58,264.66 L101.41,273.02 L107.23,281.21 L113.06,289.23 L118.88,297.08 L124.71,304.76 L130.54,312.27 L136.36,319.60 L142.19,326.76 L148.01,333.74 L153.84,340.54 L159.66,347.18 L165.49,353.63 L171.32,359.91 L177.14,366.02 L182.97,371.95 L188.79,377.71 L194.62,383.29 L200.45,388.70 L206.27,393.94 L212.10,399.01 L217.92,403.91 L223.75,408.64 L229.57,413.19 L235.40,417.59 L241.23,421.81 L247.05,425.87 L252.88,429.76 L258.70,433.49 L264.53,437.06 L270.35,440.47 L276.18,443.72 L282.01,446.80 L287.83,449.73 L293.66,452.50 L299.48,455.12 L305.31,457.58 L311.14,459.89 L316.96,462.04 L322.79,464.04 L328.61,465.89 L334.44,467.59 L340.26,469.13 L346.09,470.53 L351.92,471.78 L357.74,472.88 L363.57,473.83 L369.39,474.63 L375.22,475.29 L381.05,475.80 L386.87,476.17 L392.70,476.39 L398.52,476.46 L404.35,476.39 L410.17,476.17 L416.00,475.81 L421.83,475.31 L427.65,474.66 L433.48,473.86 L439.30,472.92 L445.13,471.84 L450.95,470.62 L456.78,469.24 L462.61,467.73 L468.43,466.07 L474.26,464.27 L480.08,462.32 L485.91,460.23 L491.74,458.00 L497.56,455.63 L503.39,453.11 L509.21,450.45 L515.04,447.64 L520.86,444.70 L526.69,441.61 L532.52,438.39 L538.34,435.02 L544.17,431.52 L549.99,427.88 L555.82,424.10 L561.65,420.19 L567.47,416.14 L573.30,411.96 L579.12,407.65 L584.95,403.22 L590.77,398.65 L596.60,393.96 L602.43,389.15 L608.25,384.23 L614.08,379.19 L619.90,374.03 L625.73,368.77 L631.55,363.40 L637.38,357.94 L643.21,352.38 L649.03,349.60" stroke="#00ff00" stroke-width="6" stroke-dasharray="7.29,100000" fill="none"/>
</g></g>
<g clip-path="url(#axclip)"><g transform="scale(1.55,1)"><path d="M66.45,167.50 L72.28,173.33 L78.10,183.44 L83.93,193.37 L89.75,203.14 L95.58,212.73 L101.41,222.15 L107.23,231.39 L113.06,240.45 L118.88,249.34 L124.71,258.06 L130.54,266.60 L136.36,274.95 L142.19,283.14 L148.01,291.14 L153.84,298.96 L159.66,306.61 L165.49,314.08 L171.32,321.37 L177.14,328.49 L182.97,335.42 L188.79,342.18 L194.62,348.76 L200.45,355.17 L206.27,361.40 L212.10,367.46 L217.92,373.34 L223.75,379.05 L229.57,384.59 L235.40,389.95 L241.23,395.14 L247.05,400.16 L252.88,405.01 L258.70,409.70 L264.53,414.21 L270.35,418.56 L276.18,422.74 L282.01,426.76 L287.83,430.61 L293.66,434.30 L299.48,437.82 L305.31,441.19 L311.14,444.39 L316.96,447.43 L322.79,450.32 L328.61,453.05 L334.44,455.62 L340.26,458.03 L346.09,460.29 L351.92,462.40 L357.74,464.35 L363.57,466.15 L369.39,467.79 L375.22,469.29 L381.05,470.64 L386.87,471.83 L392.70,472.88 L398.52,473.78 L404.35,474.53 L410.17,475.13 L416.00,475.59 L421.83,475.90 L427.65,476.07 L433.48,476.09 L439.30,475.97 L445.13,475.70 L450.95,475.29 L456.78,474.73 L462.61,474.04 L468.43,473.20 L474.26,472.21 L480.08,471.09 L485.91,469.82 L491.74,468.41 L497.56,466.85 L503.39,465.16 L509.21,463.32 L515.04,461.34 L520.86,459.21 L526.69,456.95 L532.52,454.54 L538.34,451.98 L544.17,449.28 L549.99,446.44 L555.82,443.46 L561.65,440.32 L567.47,437.05 L573.30,433.62 L579.12,430.05 L584.95,426.33 L590.77,422.47 L596.60,418.45 L602.43,414.29 L608.25,409.98 L614.08,405.51 L619.90,400.90 L625.73,396.13 L631.55,391.21 L637.38,386.13 L643.21,381.60 L649.03,379.20" stroke="#0000ff" stroke-width="4.5" stroke-dasharray="8,7.66" stroke-dashoffset="8.87" fill="none"/>
<path d="M66.45,167.50 L72.28,173.33 L78.10,183.44 L83.93,193.37 L89.75,203.14 L95.58,212.73 L101.41,222.15 L107.23,231.39 L113.06,240.45 L118.88,249.34 L124.71,258.06 L130.54,266.60 L136.36,274.95 L142.19,283.14 L148.01,291.14 L153.84,298.96 L159.66,306.61 L165.49,314.08 L171.32,321.37 L177.14,328.49 L182.97,335.42 L188.79,342.18 L194.62,348.76 L200.45,355.17 L206.27,361.40 L212.10,367.46 L217.92,373.34 L223.75,379.05 L229.57,384.59 L235.40,389.95 L241.23,395.14 L247.05,400.16 L252.88,405.01 L258.70,409.70 L264.53,414.21 L270.35,418.56 L276.18,422.74 L282.01,426.76 L287.83,430.61 L293.66,434.30 L299.48,437.82 L305.31,441.19 L311.14,444.39 L316.96,447.43 L322.79,450.32 L328.61,453.05 L334.44,455.62 L340.26,458.03 L346.09,460.29 L351.92,462.40 L357.74,464.35 L363.57,466.15 L369.39,467.79 L375.22,469.29 L381.05,470.64 L386.87,471.83 L392.70,472.88 L398.52,473.78 L404.35,474.53 L410.17,475.13 L416.00,475.59 L421.83,475.90 L427.65,476.07 L433.48,476.09 L439.30,475.97 L445.13,475.70 L450.95,475.29 L456.78,474.73 L462.61,474.04 L468.43,473.20 L474.26,472.21 L480.08,471.09 L485.91,469.82 L491.74,468.41 L497.56,466.85 L503.39,465.16 L509.21,463.32 L515.04,461.34 L520.86,459.21 L526.69,456.95 L532.52,454.54 L538.34,451.98 L544.17,449.28 L549.99,446.44 L555.82,443.46 L561.65,440.32 L567.47,437.05 L573.30,433.62 L579.12,430.05 L584.95,426.33 L590.77,422.47 L596.60,418.45 L602.43,414.29 L608.25,409.98 L614.08,405.51 L619.90,400.90 L625.73,396.13 L631.55,391.21 L637.38,386.13 L643.21,381.60 L649.03,379.20" stroke="#0000ff" stroke-width="4.5" stroke-dasharray="7.29,100000" fill="none"/>
</g></g>
<g fill="#0000ff"><path d="M96.65,165.20 h12.7 v4.6 h-12.7 Z M99.55,163.10 h6.9 v8.8 h-6.9 Z"/><path d="M105.68,171.03 h12.7 v4.6 h-12.7 Z M108.58,168.93 h6.9 v8.8 h-6.9 Z"/><path d="M114.71,181.14 h12.7 v4.6 h-12.7 Z M117.61,179.04 h6.9 v8.8 h-6.9 Z"/><path d="M123.74,191.07 h12.7 v4.6 h-12.7 Z M126.64,188.97 h6.9 v8.8 h-6.9 Z"/><path d="M132.77,200.84 h12.7 v4.6 h-12.7 Z M135.67,198.74 h6.9 v8.8 h-6.9 Z"/><path d="M141.80,210.43 h12.7 v4.6 h-12.7 Z M144.70,208.33 h6.9 v8.8 h-6.9 Z"/><path d="M150.83,219.85 h12.7 v4.6 h-12.7 Z M153.73,217.75 h6.9 v8.8 h-6.9 Z"/><path d="M159.86,229.09 h12.7 v4.6 h-12.7 Z M162.76,226.99 h6.9 v8.8 h-6.9 Z"/><path d="M168.89,238.15 h12.7 v4.6 h-12.7 Z M171.79,236.05 h6.9 v8.8 h-6.9 Z"/><path d="M177.92,247.04 h12.7 v4.6 h-12.7 Z M180.82,244.94 h6.9 v8.8 h-6.9 Z"/><path d="M186.95,255.76 h12.7 v4.6 h-12.7 Z M189.85,253.66 h6.9 v8.8 h-6.9 Z"/><path d="M195.98,264.30 h12.7 v4.6 h-12.7 Z M198.88,262.20 h6.9 v8.8 h-6.9 Z"/><path d="M205.01,272.65 h12.7 v4.6 h-12.7 Z M207.91,270.55 h6.9 v8.8 h-6.9 Z"/><path d="M214.04,280.84 h12.7 v4.6 h-12.7 Z M216.94,278.74 h6.9 v8.8 h-6.9 Z"/><path d="M223.07,288.84 h12.7 v4.6 h-12.7 Z M225.97,286.74 h6.9 v8.8 h-6.9 Z"/><path d="M232.10,296.66 h12.7 v4.6 h-12.7 Z M235.00,294.56 h6.9 v8.8 h-6.9 Z"/><path d="M241.13,304.31 h12.7 v4.6 h-12.7 Z M244.03,302.21 h6.9 v8.8 h-6.9 Z"/><path d="M250.16,311.78 h12.7 v4.6 h-12.7 Z M253.06,309.68 h6.9 v8.8 h-6.9 Z"/><path d="M259.19,319.07 h12.7 v4.6 h-12.7 Z M262.09,316.97 h6.9 v8.8 h-6.9 Z"/><path d="M268.22,326.19 h12.7 v4.6 h-12.7 Z M271.12,324.09 h6.9 v8.8 h-6.9 Z"/><path d="M277.25,333.12 h12.7 v4.6 h-12.7 Z M280.15,331.02 h6.9 v8.8 h-6.9 Z"/><path d="M286.28,339.88 h12.7 v4.6 h-12.7 Z M289.18,337.78 h6.9 v8.8 h-6.9 Z"/><path d="M295.31,346.46 h12.7 v4.6 h-12.7 Z M298.21,344.36 h6.9 v8.8 h-6.9 Z"/><path d="M304.34,352.87 h12.7 v4.6 h-12.7 Z M307.24,350.77 h6.9 v8.8 h-6.9 Z"/><path d="M313.37,359.10 h12.7 v4.6 h-12.7 Z M316.27,357.00 h6.9 v8.8 h-6.9 Z"/><path d="M322.40,365.16 h12.7 v4.6 h-12.7 Z M325.30,363.06 h6.9 v8.8 h-6.9 Z"/><path d="M331.43,371.04 h12.7 v4.6 h-12.7 Z M334.33,368.94 h6.9 v8.8 h-6.9 Z"/><path d="M340.46,376.75 h12.7 v4.6 h-12.7 Z M343.36,374.65 h6.9 v8.8 h-6.9 Z"/><path d="M349.49,382.29 h12.7 v4.6 h-12.7 Z M352.39,380.19 h6.9 v8.8 h-6.9 Z"/><path d="M358.52,387.65 h12.7 v4.6 h-12.7 Z M361.42,385.55 h6.9 v8.8 h-6.9 Z"/><path d="M367.55,392.84 h12.7 v4.6 h-12.7 Z M370.45,390.74 h6.9 v8.8 h-6.9 Z"/><path d="M376.58,397.86 h12.7 v4.6 h-12.7 Z M379.48,395.76 h6.9 v8.8 h-6.9 Z"/><path d="M385.61,402.71 h12.7 v4.6 h-12.7 Z M388.51,400.61 h6.9 v8.8 h-6.9 Z"/><path d="M394.64,407.40 h12.7 v4.6 h-12.7 Z M397.54,405.30 h6.9 v8.8 h-6.9 Z"/><path d="M403.67,411.91 h12.7 v4.6 h-12.7 Z M406.57,409.81 h6.9 v8.8 h-6.9 Z"/><path d="M412.70,416.26 h12.7 v4.6 h-12.7 Z M415.60,414.16 h6.9 v8.8 h-6.9 Z"/><path d="M421.73,420.44 h12.7 v4.6 h-12.7 Z M424.63,418.34 h6.9 v8.8 h-6.9 Z"/><path d="M430.76,424.46 h12.7 v4.6 h-12.7 Z M433.66,422.36 h6.9 v8.8 h-6.9 Z"/><path d="M439.79,428.31 h12.7 v4.6 h-12.7 Z M442.69,426.21 h6.9 v8.8 h-6.9 Z"/><path d="M448.82,432.00 h12.7 v4.6 h-12.7 Z M451.72,429.90 h6.9 v8.8 h-6.9 Z"/><path d="M457.85,435.52 h12.7 v4.6 h-12.7 Z M460.75,433.42 h6.9 v8.8 h-6.9 Z"/><path d="M466.88,438.89 h12.7 v4.6 h-12.7 Z M469.78,436.79 h6.9 v8.8 h-6.9 Z"/><path d="M475.91,442.09 h12.7 v4.6 h-12.7 Z M478.81,439.99 h6.9 v8.8 h-6.9 Z"/><path d="M484.94,445.13 h12.7 v4.6 h-12.7 Z M487.84,443.03 h6.9 v8.8 h-6.9 Z"/><path d="M493.97,448.02 h12.7 v4.6 h-12.7 Z M496.87,445.92 h6.9 v8.8 h-6.9 Z"/><path d="M503.00,450.75 h12.7 v4.6 h-12.7 Z M505.90,448.65 h6.9 v8.8 h-6.9 Z"/><path d="M512.03,453.32 h12.7 v4.6 h-12.7 Z M514.93,451.22 h6.9 v8.8 h-6.9 Z"/><path d="M521.06,455.73 h12.7 v4.6 h-12.7 Z M523.96,453.63 h6.9 v8.8 h-6.9 Z"/><path d="M530.09,457.99 h12.7 v4.6 h-12.7 Z M532.99,455.89 h6.9 v8.8 h-6.9 Z"/><path d="M539.12,460.10 h12.7 v4.6 h-12.7 Z M542.02,458.00 h6.9 v8.8 h-6.9 Z"/><path d="M548.15,462.05 h12.7 v4.6 h-12.7 Z M551.05,459.95 h6.9 v8.8 h-6.9 Z"/><path d="M557.18,463.85 h12.7 v4.6 h-12.7 Z M560.08,461.75 h6.9 v8.8 h-6.9 Z"/><path d="M566.21,465.49 h12.7 v4.6 h-12.7 Z M569.11,463.39 h6.9 v8.8 h-6.9 Z"/><path d="M575.24,466.99 h12.7 v4.6 h-12.7 Z M578.14,464.89 h6.9 v8.8 h-6.9 Z"/><path d="M584.27,468.34 h12.7 v4.6 h-12.7 Z M587.17,466.24 h6.9 v8.8 h-6.9 Z"/><path d="M593.30,469.53 h12.7 v4.6 h-12.7 Z M596.20,467.43 h6.9 v8.8 h-6.9 Z"/><path d="M602.33,470.58 h12.7 v4.6 h-12.7 Z M605.23,468.48 h6.9 v8.8 h-6.9 Z"/><path d="M611.36,471.48 h12.7 v4.6 h-12.7 Z M614.26,469.38 h6.9 v8.8 h-6.9 Z"/><path d="M620.39,472.23 h12.7 v4.6 h-12.7 Z M623.29,470.13 h6.9 v8.8 h-6.9 Z"/><path d="M629.42,472.83 h12.7 v4.6 h-12.7 Z M632.32,470.73 h6.9 v8.8 h-6.9 Z"/><path d="M638.45,473.29 h12.7 v4.6 h-12.7 Z M641.35,471.19 h6.9 v8.8 h-6.9 Z"/><path d="M647.48,473.60 h12.7 v4.6 h-12.7 Z M650.38,471.50 h6.9 v8.8 h-6.9 Z"/><path d="M656.51,473.77 h12.7 v4.6 h-12.7 Z M659.41,471.67 h6.9 v8.8 h-6.9 Z"/><path d="M665.54,473.79 h12.7 v4.6 h-12.7 Z M668.44,471.69 h6.9 v8.8 h-6.9 Z"/><path d="M674.57,473.67 h12.7 v4.6 h-12.7 Z M677.47,471.57 h6.9 v8.8 h-6.9 Z"/><path d="M683.60,473.40 h12.7 v4.6 h-12.7 Z M686.50,471.30 h6.9 v8.8 h-6.9 Z"/><path d="M692.63,472.99 h12.7 v4.6 h-12.7 Z M695.53,470.89 h6.9 v8.8 h-6.9 Z"/><path d="M701.66,472.43 h12.7 v4.6 h-12.7 Z M704.56,470.33 h6.9 v8.8 h-6.9 Z"/><path d="M710.69,471.74 h12.7 v4.6 h-12.7 Z M713.59,469.64 h6.9 v8.8 h-6.9 Z"/><path d="M719.72,470.90 h12.7 v4.6 h-12.7 Z M722.62,468.80 h6.9 v8.8 h-6.9 Z"/><path d="M728.75,469.91 h12.7 v4.6 h-12.7 Z M731.65,467.81 h6.9 v8.8 h-6.9 Z"/><path d="M737.78,468.79 h12.7 v4.6 h-12.7 Z M740.68,466.69 h6.9 v8.8 h-6.9 Z"/><path d="M746.81,467.52 h12.7 v4.6 h-12.7 Z M749.71,465.42 h6.9 v8.8 h-6.9 Z"/><path d="M755.84,466.11 h12.7 v4.6 h-12.7 Z M758.74,464.01 h6.9 v8.8 h-6.9 Z"/><path d="M764.87,464.55 h12.7 v4.6 h-12.7 Z M767.77,462.45 h6.9 v8.8 h-6.9 Z"/><path d="M773.90,462.86 h12.7 v4.6 h-12.7 Z M776.80,460.76 h6.9 v8.8 h-6.9 Z"/><path d="M782.93,461.02 h12.7 v4.6 h-12.7 Z M785.83,458.92 h6.9 v8.8 h-6.9 Z"/><path d="M791.96,459.04 h12.7 v4.6 h-12.7 Z M794.86,456.94 h6.9 v8.8 h-6.9 Z"/><path d="M800.99,456.91 h12.7 v4.6 h-12.7 Z M803.89,454.81 h6.9 v8.8 h-6.9 Z"/><path d="M810.02,454.65 h12.7 v4.6 h-12.7 Z M812.92,452.55 h6.9 v8.8 h-6.9 Z"/><path d="M819.05,452.24 h12.7 v4.6 h-12.7 Z M821.95,450.14 h6.9 v8.8 h-6.9 Z"/><path d="M828.08,449.68 h12.7 v4.6 h-12.7 Z M830.98,447.58 h6.9 v8.8 h-6.9 Z"/><path d="M837.11,446.98 h12.7 v4.6 h-12.7 Z M840.01,444.88 h6.9 v8.8 h-6.9 Z"/><path d="M846.14,444.14 h12.7 v4.6 h-12.7 Z M849.04,442.04 h6.9 v8.8 h-6.9 Z"/><path d="M855.17,441.16 h12.7 v4.6 h-12.7 Z M858.07,439.06 h6.9 v8.8 h-6.9 Z"/><path d="M864.20,438.02 h12.7 v4.6 h-12.7 Z M867.10,435.92 h6.9 v8.8 h-6.9 Z"/><path d="M873.23,434.75 h12.7 v4.6 h-12.7 Z M876.13,432.65 h6.9 v8.8 h-6.9 Z"/><path d="M882.26,431.32 h12.7 v4.6 h-12.7 Z M885.16,429.22 h6.9 v8.8 h-6.9 Z"/><path d="M891.29,427.75 h12.7 v4.6 h-12.7 Z M894.19,425.65 h6.9 v8.8 h-6.9 Z"/><path d="M900.32,424.03 h12.7 v4.6 h-12.7 Z M903.22,421.93 h6.9 v8.8 h-6.9 Z"/><path d="M909.35,420.17 h12.7 v4.6 h-12.7 Z M912.25,418.07 h6.9 v8.8 h-6.9 Z"/><path d="M918.38,416.15 h12.7 v4.6 h-12.7 Z M921.28,414.05 h6.9 v8.8 h-6.9 Z"/><path d="M927.41,411.99 h12.7 v4.6 h-12.7 Z M930.31,409.89 h6.9 v8.8 h-6.9 Z"/><path d="M936.44,407.68 h12.7 v4.6 h-12.7 Z M939.34,405.58 h6.9 v8.8 h-6.9 Z"/><path d="M945.47,403.21 h12.7 v4.6 h-12.7 Z M948.37,401.11 h6.9 v8.8 h-6.9 Z"/><path d="M954.50,398.60 h12.7 v4.6 h-12.7 Z M957.40,396.50 h6.9 v8.8 h-6.9 Z"/><path d="M963.53,393.83 h12.7 v4.6 h-12.7 Z M966.43,391.73 h6.9 v8.8 h-6.9 Z"/><path d="M972.56,388.91 h12.7 v4.6 h-12.7 Z M975.46,386.81 h6.9 v8.8 h-6.9 Z"/><path d="M981.59,383.83 h12.7 v4.6 h-12.7 Z M984.49,381.73 h6.9 v8.8 h-6.9 Z"/><path d="M990.62,379.30 h12.7 v4.6 h-12.7 Z M993.52,377.20 h6.9 v8.8 h-6.9 Z"/><path d="M999.65,376.90 h12.7 v4.6 h-12.7 Z M1002.55,374.80 h6.9 v8.8 h-6.9 Z"/></g>
<g clip-path="url(#axclip)"><g transform="scale(1.55,1)"><path d="M66.45,59.95 L72.28,65.90 L78.10,78.29 L83.93,90.43 L89.75,102.34 L95.58,114.00 L101.41,125.44 L107.23,136.65 L113.06,147.63 L118.88,158.39 L124.71,168.94 L130.54,179.27 L136.36,189.40 L142.19,199.32 L148.01,209.03 L153.84,218.55 L159.66,227.87 L165.49,236.99 L171.32,245.92 L177.14,254.66 L182.97,263.21 L188.79,271.57 L194.62,279.75 L200.45,287.74 L206.27,295.56 L212.10,303.19 L217.92,310.65 L223.75,317.92 L229.57,325.02 L235.40,331.95 L241.23,338.70 L247.05,345.28 L252.88,351.69 L258.70,357.93 L264.53,364.00 L270.35,369.90 L276.18,375.63 L282.01,381.19 L287.83,386.59 L293.66,391.82 L299.48,396.88 L305.31,401.78 L311.14,406.51 L316.96,411.09 L322.79,415.50 L328.61,419.74 L334.44,423.83 L340.26,427.75 L346.09,431.51 L351.92,435.11 L357.74,438.55 L363.57,441.83 L369.39,444.96 L375.22,447.92 L381.05,450.73 L386.87,453.38 L392.70,455.87 L398.52,458.21 L404.35,460.39 L410.17,462.42 L416.00,464.29 L421.83,466.01 L427.65,467.57 L433.48,468.98 L439.30,470.24 L445.13,471.34 L450.95,472.30 L456.78,473.10 L462.61,473.76 L468.43,474.26 L474.26,474.61 L480.08,474.82 L485.91,474.88 L491.74,474.79 L497.56,474.55 L503.39,474.16 L509.21,473.63 L515.04,472.95 L520.86,472.13 L526.69,471.16 L532.52,470.04 L538.34,468.78 L544.17,467.38 L549.99,465.83 L555.82,464.13 L561.65,462.29 L567.47,460.31 L573.30,458.18 L579.12,455.91 L584.95,453.49 L590.77,450.92 L596.60,448.21 L602.43,445.35 L608.25,442.35 L614.08,439.20 L619.90,435.89 L625.73,432.44 L631.55,428.90 L637.38,425.10 L643.21,421.00 L649.03,419.40" stroke="#ff00ff" stroke-width="2" stroke-dasharray="8,7.66" stroke-dashoffset="8.87" fill="none"/>
<path d="M66.45,59.95 L72.28,65.90 L78.10,78.29 L83.93,90.43 L89.75,102.34 L95.58,114.00 L101.41,125.44 L107.23,136.65 L113.06,147.63 L118.88,158.39 L124.71,168.94 L130.54,179.27 L136.36,189.40 L142.19,199.32 L148.01,209.03 L153.84,218.55 L159.66,227.87 L165.49,236.99 L171.32,245.92 L177.14,254.66 L182.97,263.21 L188.79,271.57 L194.62,279.75 L200.45,287.74 L206.27,295.56 L212.10,303.19 L217.92,310.65 L223.75,317.92 L229.57,325.02 L235.40,331.95 L241.23,338.70 L247.05,345.28 L252.88,351.69 L258.70,357.93 L264.53,364.00 L270.35,369.90 L276.18,375.63 L282.01,381.19 L287.83,386.59 L293.66,391.82 L299.48,396.88 L305.31,401.78 L311.14,406.51 L316.96,411.09 L322.79,415.50 L328.61,419.74 L334.44,423.83 L340.26,427.75 L346.09,431.51 L351.92,435.11 L357.74,438.55 L363.57,441.83 L369.39,444.96 L375.22,447.92 L381.05,450.73 L386.87,453.38 L392.70,455.87 L398.52,458.21 L404.35,460.39 L410.17,462.42 L416.00,464.29 L421.83,466.01 L427.65,467.57 L433.48,468.98 L439.30,470.24 L445.13,471.34 L450.95,472.30 L456.78,473.10 L462.61,473.76 L468.43,474.26 L474.26,474.61 L480.08,474.82 L485.91,474.88 L491.74,474.79 L497.56,474.55 L503.39,474.16 L509.21,473.63 L515.04,472.95 L520.86,472.13 L526.69,471.16 L532.52,470.04 L538.34,468.78 L544.17,467.38 L549.99,465.83 L555.82,464.13 L561.65,462.29 L567.47,460.31 L573.30,458.18 L579.12,455.91 L584.95,453.49 L590.77,450.92 L596.60,448.21 L602.43,445.35 L608.25,442.35 L614.08,439.20 L619.90,435.89 L625.73,432.44 L631.55,428.90 L637.38,425.10 L643.21,421.00 L649.03,419.40" stroke="#ff00ff" stroke-width="2" stroke-dasharray="7.29,100000" fill="none"/>
</g></g>
<g fill="#ff00ff" fill-rule="evenodd"><path d="M96.80,56.00 h12.4 v7.9 h-12.4 Z M99.40,58.10 v3.70 h7.20 v-3.70 Z"/><path d="M105.83,61.95 h12.4 v7.9 h-12.4 Z M108.43,64.05 v3.70 h7.20 v-3.70 Z"/><path d="M114.86,74.34 h12.4 v7.9 h-12.4 Z M117.46,76.44 v3.70 h7.20 v-3.70 Z"/><path d="M123.89,86.48 h12.4 v7.9 h-12.4 Z M126.49,88.58 v3.70 h7.20 v-3.70 Z"/><path d="M132.92,98.39 h12.4 v7.9 h-12.4 Z M135.52,100.49 v3.70 h7.20 v-3.70 Z"/><path d="M141.95,110.05 h12.4 v7.9 h-12.4 Z M144.55,112.15 v3.70 h7.20 v-3.70 Z"/><path d="M150.98,121.49 h12.4 v7.9 h-12.4 Z M153.58,123.59 v3.70 h7.20 v-3.70 Z"/><path d="M160.01,132.70 h12.4 v7.9 h-12.4 Z M162.61,134.80 v3.70 h7.20 v-3.70 Z"/><path d="M169.04,143.68 h12.4 v7.9 h-12.4 Z M171.64,145.78 v3.70 h7.20 v-3.70 Z"/><path d="M178.07,154.44 h12.4 v7.9 h-12.4 Z M180.67,156.54 v3.70 h7.20 v-3.70 Z"/><path d="M187.10,164.99 h12.4 v7.9 h-12.4 Z M189.70,167.09 v3.70 h7.20 v-3.70 Z"/><path d="M196.13,175.32 h12.4 v7.9 h-12.4 Z M198.73,177.42 v3.70 h7.20 v-3.70 Z"/><path d="M205.16,185.45 h12.4 v7.9 h-12.4 Z M207.76,187.55 v3.70 h7.20 v-3.70 Z"/><path d="M214.19,195.37 h12.4 v7.9 h-12.4 Z M216.79,197.47 v3.70 h7.20 v-3.70 Z"/><path d="M223.22,205.08 h12.4 v7.9 h-12.4 Z M225.82,207.18 v3.70 h7.20 v-3.70 Z"/><path d="M232.25,214.60 h12.4 v7.9 h-12.4 Z M234.85,216.70 v3.70 h7.20 v-3.70 Z"/><path d="M241.28,223.92 h12.4 v7.9 h-12.4 Z M243.88,226.02 v3.70 h7.20 v-3.70 Z"/><path d="M250.31,233.04 h12.4 v7.9 h-12.4 Z M252.91,235.14 v3.70 h7.20 v-3.70 Z"/><path d="M259.34,241.97 h12.4 v7.9 h-12.4 Z M261.94,244.07 v3.70 h7.20 v-3.70 Z"/><path d="M268.37,250.71 h12.4 v7.9 h-12.4 Z M270.97,252.81 v3.70 h7.20 v-3.70 Z"/><path d="M277.40,259.26 h12.4 v7.9 h-12.4 Z M280.00,261.36 v3.70 h7.20 v-3.70 Z"/><path d="M286.43,267.62 h12.4 v7.9 h-12.4 Z M289.03,269.72 v3.70 h7.20 v-3.70 Z"/><path d="M295.46,275.80 h12.4 v7.9 h-12.4 Z M298.06,277.90 v3.70 h7.20 v-3.70 Z"/><path d="M304.49,283.79 h12.4 v7.9 h-12.4 Z M307.09,285.89 v3.70 h7.20 v-3.70 Z"/><path d="M313.52,291.61 h12.4 v7.9 h-12.4 Z M316.12,293.71 v3.70 h7.20 v-3.70 Z"/><path d="M322.55,299.24 h12.4 v7.9 h-12.4 Z M325.15,301.34 v3.70 h7.20 v-3.70 Z"/><path d="M331.58,306.70 h12.4 v7.9 h-12.4 Z M334.18,308.80 v3.70 h7.20 v-3.70 Z"/><path d="M340.61,313.97 h12.4 v7.9 h-12.4 Z M343.21,316.07 v3.70 h7.20 v-3.70 Z"/><path d="M349.64,321.07 h12.4 v7.9 h-12.4 Z M352.24,323.17 v3.70 h7.20 v-3.70 Z"/><path d="M358.67,328.00 h12.4 v7.9 h-12.4 Z M361.27,330.10 v3.70 h7.20 v-3.70 Z"/><path d="M367.70,334.75 h12.4 v7.9 h-12.4 Z M370.30,336.85 v3.70 h7.20 v-3.70 Z"/><path d="M376.73,341.33 h12.4 v7.9 h-12.4 Z M379.33,343.43 v3.70 h7.20 v-3.70 Z"/><path d="M385.76,347.74 h12.4 v7.9 h-12.4 Z M388.36,349.84 v3.70 h7.20 v-3.70 Z"/><path d="M394.79,353.98 h12.4 v7.9 h-12.4 Z M397.39,356.08 v3.70 h7.20 v-3.70 Z"/><path d="M403.82,360.05 h12.4 v7.9 h-12.4 Z M406.42,362.15 v3.70 h7.20 v-3.70 Z"/><path d="M412.85,365.95 h12.4 v7.9 h-12.4 Z M415.45,368.05 v3.70 h7.20 v-3.70 Z"/><path d="M421.88,371.68 h12.4 v7.9 h-12.4 Z M424.48,373.78 v3.70 h7.20 v-3.70 Z"/><path d="M430.91,377.24 h12.4 v7.9 h-12.4 Z M433.51,379.34 v3.70 h7.20 v-3.70 Z"/><path d="M439.94,382.64 h12.4 v7.9 h-12.4 Z M442.54,384.74 v3.70 h7.20 v-3.70 Z"/><path d="M448.97,387.87 h12.4 v7.9 h-12.4 Z M451.57,389.97 v3.70 h7.20 v-3.70 Z"/><path d="M458.00,392.93 h12.4 v7.9 h-12.4 Z M460.60,395.03 v3.70 h7.20 v-3.70 Z"/><path d="M467.03,397.83 h12.4 v7.9 h-12.4 Z M469.63,399.93 v3.70 h7.20 v-3.70 Z"/><path d="M476.06,402.56 h12.4 v7.9 h-12.4 Z M478.66,404.66 v3.70 h7.20 v-3.70 Z"/><path d="M485.09,407.14 h12.4 v7.9 h-12.4 Z M487.69,409.24 v3.70 h7.20 v-3.70 Z"/><path d="M494.12,411.55 h12.4 v7.9 h-12.4 Z M496.72,413.65 v3.70 h7.20 v-3.70 Z"/><path d="M503.15,415.79 h12.4 v7.9 h-12.4 Z M505.75,417.89 v3.70 h7.20 v-3.70 Z"/><path d="M512.18,419.88 h12.4 v7.9 h-12.4 Z M514.78,421.98 v3.70 h7.20 v-3.70 Z"/><path d="M521.21,423.80 h12.4 v7.9 h-12.4 Z M523.81,425.90 v3.70 h7.20 v-3.70 Z"/><path d="M530.24,427.56 h12.4 v7.9 h-12.4 Z M532.84,429.66 v3.70 h7.20 v-3.70 Z"/><path d="M539.27,431.16 h12.4 v7.9 h-12.4 Z M541.87,433.26 v3.70 h7.20 v-3.70 Z"/><path d="M548.30,434.60 h12.4 v7.9 h-12.4 Z M550.90,436.70 v3.70 h7.20 v-3.70 Z"/><path d="M557.33,437.88 h12.4 v7.9 h-12.4 Z M559.93,439.98 v3.70 h7.20 v-3.70 Z"/><path d="M566.36,441.01 h12.4 v7.9 h-12.4 Z M568.96,443.11 v3.70 h7.20 v-3.70 Z"/><path d="M575.39,443.97 h12.4 v7.9 h-12.4 Z M577.99,446.07 v3.70 h7.20 v-3.70 Z"/><path d="M584.42,446.78 h12.4 v7.9 h-12.4 Z M587.02,448.88 v3.70 h7.20 v-3.70 Z"/><path d="M593.45,449.43 h12.4 v7.9 h-12.4 Z M596.05,451.53 v3.70 h7.20 v-3.70 Z"/><path d="M602.48,451.92 h12.4 v7.9 h-12.4 Z M605.08,454.02 v3.70 h7.20 v-3.70 Z"/><path d="M611.51,454.26 h12.4 v7.9 h-12.4 Z M614.11,456.36 v3.70 h7.20 v-3.70 Z"/><path d="M620.54,456.44 h12.4 v7.9 h-12.4 Z M623.14,458.54 v3.70 h7.20 v-3.70 Z"/><path d="M629.57,458.47 h12.4 v7.9 h-12.4 Z M632.17,460.57 v3.70 h7.20 v-3.70 Z"/><path d="M638.60,460.34 h12.4 v7.9 h-12.4 Z M641.20,462.44 v3.70 h7.20 v-3.70 Z"/><path d="M647.63,462.06 h12.4 v7.9 h-12.4 Z M650.23,464.16 v3.70 h7.20 v-3.70 Z"/><path d="M656.66,463.62 h12.4 v7.9 h-12.4 Z M659.26,465.72 v3.70 h7.20 v-3.70 Z"/><path d="M665.69,465.03 h12.4 v7.9 h-12.4 Z M668.29,467.13 v3.70 h7.20 v-3.70 Z"/><path d="M674.72,466.29 h12.4 v7.9 h-12.4 Z M677.32,468.39 v3.70 h7.20 v-3.70 Z"/><path d="M683.75,467.39 h12.4 v7.9 h-12.4 Z M686.35,469.49 v3.70 h7.20 v-3.70 Z"/><path d="M692.78,468.35 h12.4 v7.9 h-12.4 Z M695.38,470.45 v3.70 h7.20 v-3.70 Z"/><path d="M701.81,469.15 h12.4 v7.9 h-12.4 Z M704.41,471.25 v3.70 h7.20 v-3.70 Z"/><path d="M710.84,469.81 h12.4 v7.9 h-12.4 Z M713.44,471.91 v3.70 h7.20 v-3.70 Z"/><path d="M719.87,470.31 h12.4 v7.9 h-12.4 Z M722.47,472.41 v3.70 h7.20 v-3.70 Z"/><path d="M728.90,470.66 h12.4 v7.9 h-12.4 Z M731.50,472.76 v3.70 h7.20 v-3.70 Z"/><path d="M737.93,470.87 h12.4 v7.9 h-12.4 Z M740.53,472.97 v3.70 h7.20 v-3.70 Z"/><path d="M746.96,470.93 h12.4 v7.9 h-12.4 Z M749.56,473.03 v3.70 h7.20 v-3.70 Z"/><path d="M755.99,470.84 h12.4 v7.9 h-12.4 Z M758.59,472.94 v3.70 h7.20 v-3.70 Z"/><path d="M765.02,470.60 h12.4 v7.9 h-12.4 Z M767.62,472.70 v3.70 h7.20 v-3.70 Z"/><path d="M774.05,470.21 h12.4 v7.9 h-12.4 Z M776.65,472.31 v3.70 h7.20 v-3.70 Z"/><path d="M783.08,469.68 h12.4 v7.9 h-12.4 Z M785.68,471.78 v3.70 h7.20 v-3.70 Z"/><path d="M792.11,469.00 h12.4 v7.9 h-12.4 Z M794.71,471.10 v3.70 h7.20 v-3.70 Z"/><path d="M801.14,468.18 h12.4 v7.9 h-12.4 Z M803.74,470.28 v3.70 h7.20 v-3.70 Z"/><path d="M810.17,467.21 h12.4 v7.9 h-12.4 Z M812.77,469.31 v3.70 h7.20 v-3.70 Z"/><path d="M819.20,466.09 h12.4 v7.9 h-12.4 Z M821.80,468.19 v3.70 h7.20 v-3.70 Z"/><path d="M828.23,464.83 h12.4 v7.9 h-12.4 Z M830.83,466.93 v3.70 h7.20 v-3.70 Z"/><path d="M837.26,463.43 h12.4 v7.9 h-12.4 Z M839.86,465.53 v3.70 h7.20 v-3.70 Z"/><path d="M846.29,461.88 h12.4 v7.9 h-12.4 Z M848.89,463.98 v3.70 h7.20 v-3.70 Z"/><path d="M855.32,460.18 h12.4 v7.9 h-12.4 Z M857.92,462.28 v3.70 h7.20 v-3.70 Z"/><path d="M864.35,458.34 h12.4 v7.9 h-12.4 Z M866.95,460.44 v3.70 h7.20 v-3.70 Z"/><path d="M873.38,456.36 h12.4 v7.9 h-12.4 Z M875.98,458.46 v3.70 h7.20 v-3.70 Z"/><path d="M882.41,454.23 h12.4 v7.9 h-12.4 Z M885.01,456.33 v3.70 h7.20 v-3.70 Z"/><path d="M891.44,451.96 h12.4 v7.9 h-12.4 Z M894.04,454.06 v3.70 h7.20 v-3.70 Z"/><path d="M900.47,449.54 h12.4 v7.9 h-12.4 Z M903.07,451.64 v3.70 h7.20 v-3.70 Z"/><path d="M909.50,446.97 h12.4 v7.9 h-12.4 Z M912.10,449.07 v3.70 h7.20 v-3.70 Z"/><path d="M918.53,444.26 h12.4 v7.9 h-12.4 Z M921.13,446.36 v3.70 h7.20 v-3.70 Z"/><path d="M927.56,441.40 h12.4 v7.9 h-12.4 Z M930.16,443.50 v3.70 h7.20 v-3.70 Z"/><path d="M936.59,438.40 h12.4 v7.9 h-12.4 Z M939.19,440.50 v3.70 h7.20 v-3.70 Z"/><path d="M945.62,435.25 h12.4 v7.9 h-12.4 Z M948.22,437.35 v3.70 h7.20 v-3.70 Z"/><path d="M954.65,431.94 h12.4 v7.9 h-12.4 Z M957.25,434.04 v3.70 h7.20 v-3.70 Z"/><path d="M963.68,428.49 h12.4 v7.9 h-12.4 Z M966.28,430.59 v3.70 h7.20 v-3.70 Z"/><path d="M972.71,424.95 h12.4 v7.9 h-12.4 Z M975.31,427.05 v3.70 h7.20 v-3.70 Z"/><path d="M981.74,421.15 h12.4 v7.9 h-12.4 Z M984.34,423.25 v3.70 h7.20 v-3.70 Z"/><path d="M990.77,417.05 h12.4 v7.9 h-12.4 Z M993.37,419.15 v3.70 h7.20 v-3.70 Z"/><path d="M999.80,415.45 h12.4 v7.9 h-12.4 Z M1002.40,417.55 v3.70 h7.20 v-3.70 Z"/></g>
<rect x="571.2" y="137" width="160.8" height="130.3" fill="#fff" stroke="#222" stroke-width="1.5"/>
<rect x="583" y="149.10" width="12.30" height="4.5" fill="#ff0000"/>
<rect x="607.1" y="149.10" width="12.50" height="4.5" fill="#ff0000"/>
<rect x="631.3" y="149.10" width="12.50" height="4.5" fill="#ff0000"/>
<path d="M613.40,142.30 L626.00,156.60 L600.80,156.60 Z" fill="#ff0000"/>
<rect x="583" y="174.55" width="12.30" height="4.5" fill="#00ffff"/>
<rect x="607.1" y="174.55" width="12.50" height="4.5" fill="#00ffff"/>
<rect x="631.3" y="174.55" width="12.50" height="4.5" fill="#00ffff"/>
<ellipse cx="613.4" cy="176.8" rx="9.5" ry="6.15" fill="#00ffff"/>
<rect x="583" y="199.20" width="12.30" height="6" fill="#00ff00"/>
<rect x="607.1" y="199.20" width="12.50" height="6" fill="#00ff00"/>
<rect x="631.3" y="199.20" width="12.50" height="6" fill="#00ff00"/>
<rect x="583" y="225.15" width="12.30" height="4.5" fill="#0000ff"/>
<rect x="607.1" y="225.15" width="12.50" height="4.5" fill="#0000ff"/>
<rect x="631.3" y="225.15" width="12.50" height="4.5" fill="#0000ff"/>
<path d="M607.05,225.10 h12.7 v4.6 h-12.7 Z M609.95,223.00 h6.9 v8.8 h-6.9 Z" fill="#0000ff"/>
<rect x="583" y="251.70" width="12.30" height="2" fill="#ff00ff"/>
<rect x="607.1" y="251.70" width="12.50" height="2" fill="#ff00ff"/>
<rect x="631.3" y="251.70" width="12.50" height="2" fill="#ff00ff"/>
<path d="M607.05,248.70 h12.7 v8 h-12.7 Z M609.65,250.20 v5.00 h7.50 v-5.00 Z" fill="#ff00ff" fill-rule="evenodd"/>
<g filter="url(#gs)"><text transform="translate(97.41,493.60) scale(1.445,1)" font-size="13.9">0</text><text transform="translate(179.34,493.60) scale(1.445,1)" font-size="13.9">0.</text><path d="M203.40,493.60 L203.40,483.77 L202.04,483.77 C201.81,484.70 200.61,485.37 198.44,485.43 L198.44,486.34 L201.45,486.34 L201.45,493.60 Z" fill="#111"/><text transform="translate(269.64,493.60) scale(1.445,1)" font-size="13.9">0.2</text><text transform="translate(359.94,493.60) scale(1.445,1)" font-size="13.9">0.3</text><text transform="translate(450.24,493.60) scale(1.445,1)" font-size="13.9">0.4</text><text transform="translate(540.54,493.60) scale(1.445,1)" font-size="13.9">0.5</text><text transform="translate(630.84,493.60) scale(1.445,1)" font-size="13.9">0.6</text><text transform="translate(721.14,493.60) scale(1.445,1)" font-size="13.9">0.7</text><text transform="translate(811.44,493.60) scale(1.445,1)" font-size="13.9">0.8</text><text transform="translate(901.74,493.60) scale(1.445,1)" font-size="13.9">0.9</text><path d="M1007.73,493.60 L1007.73,483.77 L1006.36,483.77 C1006.14,484.70 1004.93,485.37 1002.76,485.43 L1002.76,486.34 L1005.78,486.34 L1005.78,493.60 Z" fill="#111"/><text transform="translate(86.03,483.05) scale(1.445,1)" font-size="13.9">0</text><text transform="translate(58.11,417.05) scale(1.445,1)" font-size="13.9">0.0</text><path d="M93.34,417.05 L93.34,407.22 L91.97,407.22 C91.75,408.15 90.55,408.82 88.38,408.88 L88.38,409.79 L91.39,409.79 L91.39,417.05 Z" fill="#111"/><text transform="translate(58.11,351.05) scale(1.445,1)" font-size="13.9">0.02</text><text transform="translate(58.11,285.05) scale(1.445,1)" font-size="13.9">0.03</text><text transform="translate(58.11,219.05) scale(1.445,1)" font-size="13.9">0.04</text><text transform="translate(58.11,153.05) scale(1.445,1)" font-size="13.9">0.05</text><text transform="translate(58.11,87.05) scale(1.445,1)" font-size="13.9">0.06</text><text transform="translate(58.11,21.05) scale(1.445,1)" font-size="13.9">0.07</text><path d="M542.2,508.6 C542.4,505.6 544.2,504.6 545.6,504.6 C547.4,504.6 548.6,505.0 549.9,506.0 L550.0,517.3 L546.8,517.3 L546.8,508.0 C546.6,506.6 545.6,506.0 544.6,506.2 C543.6,506.4 543.0,507.4 542.7,508.9 Z M549.9,508.6 C551.5,505.4 553.6,503.7 556.6,503.7 C560.6,503.7 562.3,505.4 562.3,508.2 L562.3,521.6 L563.1,522.9 L559.0,522.9 L558.8,521.4 L558.8,508.6 C558.8,506.7 557.9,506.0 556.4,506.0 C554.0,506.0 551.6,507.6 550.0,510.6 Z" fill="#111"/><text transform="translate(39.0,246.8) scale(1.55,1) rotate(-90)" text-anchor="middle" font-size="27.5">Ns</text><g transform="translate(0,0.00)" fill="none" stroke="#111" stroke-linecap="round"><path d="M651.4,146.5 C651.9,145.0 653.5,144.3 654.8,145.7 L658.2,152.5 C658.8,153.6 660.2,153.5 660.9,152.1" stroke-width="1.45"/><path d="M655.6,148.3 L651.0,153.5" stroke-width="1.25"/></g><text transform="translate(660.9,160.65) scale(1.55,1)" font-size="10.5">2</text><rect x="676.4" y="149.20" width="9.4" height="1.1" fill="#222"/><rect x="676.4" y="151.70" width="9.4" height="1.1" fill="#222"/><text transform="translate(693.00,154.35) scale(1.51,1)" font-size="13.3">0.0</text><g transform="translate(0,25.45)" fill="none" stroke="#111" stroke-linecap="round"><path d="M651.4,146.5 C651.9,145.0 653.5,144.3 654.8,145.7 L658.2,152.5 C658.8,153.6 660.2,153.5 660.9,152.1" stroke-width="1.45"/><path d="M655.6,148.3 L651.0,153.5" stroke-width="1.25"/></g><text transform="translate(660.9,186.10) scale(1.55,1)" font-size="10.5">2</text><rect x="676.4" y="174.65" width="9.4" height="1.1" fill="#222"/><rect x="676.4" y="177.15" width="9.4" height="1.1" fill="#222"/><text transform="translate(693.00,179.80) scale(1.51,1)" font-size="13.3">0.</text><path d="M717.06,179.80 L717.06,170.40 L715.69,170.40 C715.47,171.29 714.27,171.93 712.10,171.98 L712.10,172.86 L715.11,172.86 L715.11,179.80 Z" fill="#111"/><g transform="translate(0,50.85)" fill="none" stroke="#111" stroke-linecap="round"><path d="M651.4,146.5 C651.9,145.0 653.5,144.3 654.8,145.7 L658.2,152.5 C658.8,153.6 660.2,153.5 660.9,152.1" stroke-width="1.45"/><path d="M655.6,148.3 L651.0,153.5" stroke-width="1.25"/></g><text transform="translate(660.9,211.50) scale(1.55,1)" font-size="10.5">2</text><rect x="676.4" y="200.05" width="9.4" height="1.1" fill="#222"/><rect x="676.4" y="202.55" width="9.4" height="1.1" fill="#222"/><text transform="translate(693.00,205.20) scale(1.51,1)" font-size="13.3">0.3</text><g transform="translate(0,76.05)" fill="none" stroke="#111" stroke-linecap="round"><path d="M651.4,146.5 C651.9,145.0 653.5,144.3 654.8,145.7 L658.2,152.5 C658.8,153.6 660.2,153.5 660.9,152.1" stroke-width="1.45"/><path d="M655.6,148.3 L651.0,153.5" stroke-width="1.25"/></g><text transform="translate(660.9,236.70) scale(1.55,1)" font-size="10.5">2</text><rect x="676.4" y="225.25" width="9.4" height="1.1" fill="#222"/><rect x="676.4" y="227.75" width="9.4" height="1.1" fill="#222"/><text transform="translate(693.00,230.40) scale(1.51,1)" font-size="13.3">0.5</text><g transform="translate(0,101.35)" fill="none" stroke="#111" stroke-linecap="round"><path d="M651.4,146.5 C651.9,145.0 653.5,144.3 654.8,145.7 L658.2,152.5 C658.8,153.6 660.2,153.5 660.9,152.1" stroke-width="1.45"/><path d="M655.6,148.3 L651.0,153.5" stroke-width="1.25"/></g><text transform="translate(660.9,262.00) scale(1.55,1)" font-size="10.5">2</text><rect x="676.4" y="250.55" width="9.4" height="1.1" fill="#222"/><rect x="676.4" y="253.05" width="9.4" height="1.1" fill="#222"/><path d="M700.31,255.70 L700.31,246.30 L698.94,246.30 C698.72,247.19 697.52,247.83 695.35,247.88 L695.35,248.76 L698.36,248.76 L698.36,255.70 Z" fill="#111"/><text transform="translate(704.17,255.70) scale(1.51,1)" font-size="13.3">.0</text></g>
</svg>
</body></html>
